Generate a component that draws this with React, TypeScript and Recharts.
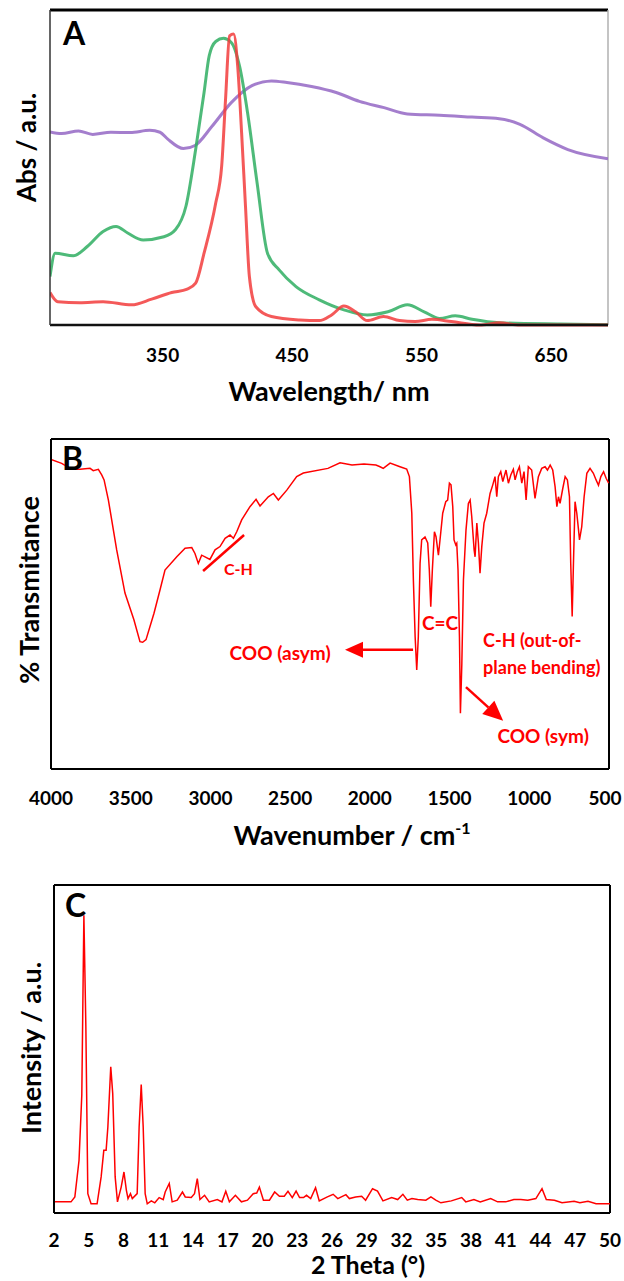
import type { ReactNode } from "react";
import { LineChart, Line, XAxis, YAxis, ReferenceLine, ReferenceDot, Label } from "recharts";

const FONT = "Lato, 'Open Sans', sans-serif";
const RED = "#ff0000";

// A - UV-Vis absorbance
const uvTicks = [350, 450, 550, 650];
const purpleNm = [263, 272, 285, 296, 310, 325, 340, 348, 354, 366, 375, 388, 403, 419, 434, 446, 465, 484, 502, 521, 539, 564, 589, 610, 626, 644, 663, 694];
const purpleAbs = [61.3, 60.8, 61.6, 60.5, 61.2, 61.1, 61.8, 61.2, 59, 56, 57, 63, 70.6, 76, 77.5, 77, 75.7, 73.8, 71, 69, 67, 66.6, 66, 65.5, 63.7, 59.4, 55.7, 52.8];
const greenNm = [263, 267, 281, 292, 304, 314, 323, 335, 351, 360, 368, 375.5, 382, 386, 391, 397, 403, 409.5, 415.6, 423, 431, 440, 453, 471, 490, 508, 524, 539, 552, 564, 576, 589, 610, 657, 694];
const greenAbs = [15.4, 22.8, 22, 25, 29.7, 31.3, 29.2, 27, 28, 30.3, 37.7, 55.7, 73.8, 85.5, 90, 91, 89.7, 82, 67.4, 45, 22.8, 17.5, 12.2, 8, 4.8, 3.2, 4.2, 6.4, 4.2, 2.1, 2.9, 1.8, 0.7, 0.3, 0.1];
const redNm = [263, 269, 286, 304, 326, 341.5, 357, 369, 375.5, 382, 391, 395.6, 398.6, 401.7, 404.8, 408, 411, 414, 417, 422, 434, 456, 471, 480.5, 490, 499, 508, 520.6, 533, 545, 558, 573, 595, 610, 626, 694];
const redAbs = [10.3, 7.4, 7.1, 7.4, 6.4, 8.2, 10.3, 11.4, 13.3, 22.8, 38.7, 50.4, 71.7, 91.8, 92.4, 82, 61, 37.7, 15.4, 5.8, 2.7, 1.6, 1.4, 3.2, 6, 4.2, 1.4, 2.7, 1.4, 1.1, 1.8, 1.1, 0, 0.7, 0, 0];

// B - FTIR
const irTicks = [4000, 3500, 3000, 2500, 2000, 1500, 1000, 500];
const irWave = [4000, 3933, 3870, 3818, 3755, 3735, 3703, 3682, 3667, 3640, 3588, 3536, 3480, 3442, 3425, 3404, 3354, 3316, 3285, 3211, 3159, 3117, 3097, 3076, 3055, 3034, 3003, 2971, 2940, 2908, 2877, 2856, 2835, 2804, 2752, 2714, 2689, 2637, 2605, 2574, 2521, 2459, 2417, 2263, 2187, 2112, 2037, 1962, 1936, 1916, 1873, 1811, 1769, 1752, 1737, 1727, 1716, 1706, 1696, 1685, 1675, 1654, 1637, 1627, 1618, 1608, 1595, 1585, 1570, 1560, 1543, 1524, 1512, 1501, 1491, 1480, 1472, 1461, 1455, 1447, 1438, 1432, 1423, 1413, 1397, 1382, 1371, 1361, 1346, 1340, 1329, 1319, 1309, 1298, 1284, 1267, 1246, 1229, 1215, 1204, 1194, 1179, 1166, 1146, 1131, 1116, 1100, 1089, 1075, 1062, 1047, 1033, 1020, 1006, 985, 964, 943, 922, 901, 886, 869, 853, 838, 827, 817, 807, 790, 775, 761, 748, 740, 731, 723, 713, 702, 691, 685, 671, 656, 639, 619, 598, 581, 566, 551, 534, 518, 502];
const irTrans = [93.8, 92.6, 90.8, 90.8, 91.1, 90.4, 90.8, 89.1, 87.6, 81.5, 66.4, 53.3, 45.2, 38.6, 38.4, 39.2, 47.2, 54.3, 60.3, 64.3, 66.9, 67.1, 65.3, 62.3, 64.8, 64.3, 63.5, 66.4, 67.4, 69.9, 70.9, 69.9, 71.9, 75.5, 79.5, 81.7, 79.7, 82.5, 83.5, 81.5, 84.5, 88.6, 89.7, 91.1, 92.8, 92.1, 92.4, 92.1, 91.6, 91.1, 92.7, 91.6, 90.9, 88.6, 77.6, 57.3, 40.1, 30, 40.1, 62.4, 69.4, 70.3, 68.5, 60.3, 49.2, 60.3, 71.9, 70.4, 64.8, 69.4, 77.5, 81, 81.5, 86.6, 86.1, 79.5, 69.4, 67.9, 68.4, 60.3, 40.1, 16.9, 32, 57.3, 72.4, 80.5, 81.5, 76.5, 66.4, 64.3, 74.5, 68.4, 59.3, 67.4, 74.5, 77.5, 83.5, 86.1, 88.6, 82.5, 88.6, 90.1, 87.1, 90.6, 86.6, 89.1, 90.8, 87.6, 90.1, 91.6, 86.6, 90.1, 81.5, 91.6, 90.6, 82, 88.6, 91.1, 91.6, 90.6, 92.1, 90.6, 85.5, 79.5, 82.5, 80.5, 85, 88.6, 87.6, 82.5, 62.3, 46.2, 62.3, 81, 77.5, 72.4, 69.4, 73.4, 82.5, 89.6, 91.1, 89.6, 87.6, 86, 88.6, 90.1, 88.1, 86.6];

// C - XRD
const xrdTicks = [2, 5, 8, 11, 14, 17, 20, 23, 26, 29, 32, 35, 38, 41, 44, 47, 50];
const xrdTheta = [2, 3.47, 3.8, 4.16, 4.4, 4.58, 4.75, 4.92, 5.2, 5.72, 6.07, 6.3, 6.5, 6.65, 6.9, 7.07, 7.28, 7.48, 7.8, 8.04, 8.25, 8.39, 8.6, 8.76, 9.18, 9.35, 9.53, 9.7, 9.87, 10.05, 10.4, 10.7, 11.08, 11.43, 11.6, 11.95, 12.2, 12.64, 13.09, 13.33, 13.85, 14.13, 14.37, 14.6, 15, 15.4, 16.1, 16.5, 16.83, 17.14, 17.66, 18.18, 18.7, 19.2, 19.5, 19.73, 20.08, 20.6, 21.05, 21.46, 21.88, 22.2, 22.57, 22.9, 23.2, 23.54, 23.8, 24.16, 24.58, 24.9, 25.6, 26.1, 26.5, 27.2, 27.5, 28.04, 28.56, 28.9, 29.5, 29.93, 30.4, 31.15, 31.67, 32.12, 32.5, 32.9, 33.4, 34.1, 34.54, 34.96, 35.4, 36.3, 37.2, 37.55, 38.25, 38.8, 39.7, 40.3, 41, 41.7, 42.3, 42.9, 43.6, 44.13, 44.5, 45.2, 45.86, 46.9, 47.4, 48.1, 48.8, 50];
const xrdCounts = [3.4, 3.4, 4.9, 16, 36, 90.8, 56.8, 5.9, 2.8, 2.8, 11, 19.1, 19.1, 26.2, 44.6, 36.4, 11, 3.4, 7.9, 12.5, 6.9, 4.4, 5.9, 4.4, 5.9, 26.2, 39.2, 26.2, 5.9, 2.8, 3.7, 3.1, 4.7, 4.1, 6.4, 9, 3.4, 3.9, 6.4, 4.9, 4.7, 5.9, 10.5, 4.1, 5.4, 3.4, 4.1, 3.4, 6.6, 3.4, 5.4, 3.4, 3.9, 5.9, 6.1, 7.9, 3.9, 3.9, 6.4, 5.1, 5.1, 6.6, 4.7, 6.7, 4.7, 4.7, 5.4, 4.4, 7.7, 3.7, 4.9, 5.7, 4.4, 5.6, 4.4, 4.9, 5.1, 3.9, 7.4, 6.7, 3.7, 4.7, 4.1, 5.7, 3.9, 4.4, 4.1, 3.9, 4.9, 3.9, 3.1, 3.7, 4.7, 3.4, 4.1, 3.4, 4.4, 3.4, 3.4, 4.1, 4.1, 3.9, 4.4, 7.4, 4.1, 3.9, 3.1, 3.6, 3.1, 3.6, 2.8, 2.8];

const zip = (xs: number[], ys: number[]) => xs.map((x, i) => ({ x, y: ys[i] }));

const tickStyle = { fill: "#000", fontSize: 19, fontWeight: 700, fontFamily: FONT };

// IR ticks: the last label sits on the page edge, nudge it inwards
const irTick = (p: any) => {
  const shift = p.payload.value === 500 ? -4 : 0;
  return (
    <text x={p.x + shift} y={p.y} dy="0.71em" textAnchor="middle" {...tickStyle}>{p.payload.value}</text>
  );
};

const xTitle = (body: ReactNode, lift: number, dx = 0, size = 27) => (p: any) => {
  const vb = p.viewBox;
  return (
    <text x={vb.x + vb.width / 2 + dx} y={vb.y + vb.height - lift} textAnchor="middle"
      fontSize={size} fontWeight={700} fontFamily={FONT} fill="#000">{body}</text>
  );
};

const yTitle = (text: string, dy: number, size = 27) => (p: any) => {
  const vb = p.viewBox;
  const cx = vb.x + vb.width / 2;
  const cy = vb.y + vb.height / 2 + dy;
  return (
    <text x={cx} y={cy} transform={`rotate(-90 ${cx} ${cy})`} textAnchor="middle" dominantBaseline="central"
      fontSize={size} fontWeight={700} fontFamily={FONT} fill="#000">{text}</text>
  );
};

const tag = (text: string, size: number, fill: string, anchor: "start" | "middle" = "middle") => (p: any) => (
  <text x={p.cx} y={p.cy} textAnchor={anchor} dominantBaseline="central"
    fontSize={size} fontWeight={700} fontFamily={FONT} fill={fill}>{text}</text>
);

// line with a filled triangle at the (x2, y2) end
const arrow = (head: number, half: number) => (p: any) => {
  const { x1, y1, x2, y2 } = p;
  const len = Math.hypot(x2 - x1, y2 - y1);
  const ux = (x2 - x1) / len;
  const uy = (y2 - y1) / len;
  const bx = x2 - ux * head;
  const by = y2 - uy * head;
  const pts = `${x2},${y2} ${bx - uy * half},${by + ux * half} ${bx + uy * half},${by - ux * half}`;
  return (
    <g>
      <line x1={x1} y1={y1} x2={bx} y2={by} stroke={RED} strokeWidth={2.5} />
      <polygon points={pts} fill={RED} />
    </g>
  );
};

const UvPanel = () => (
  <LineChart width={624} height={410} margin={{ top: 10, right: 16, bottom: 5, left: 2 }}>
    <XAxis dataKey="x" type="number" domain={[263, 694]} ticks={uvTicks} allowDataOverflow
      tickLine={false} tickSize={0} tickMargin={23.5} tick={tickStyle} height={80}
      axisLine={{ stroke: "#111", strokeWidth: 2.5 }}>
      <Label content={xTitle("Wavelength/ nm", 4)} />
    </XAxis>
    <YAxis type="number" domain={[0, 100]} tick={false} tickLine={false} width={48}
      axisLine={{ stroke: "#333", strokeWidth: 1.5 }}>
      <Label content={yTitle("Abs / a.u.", -20, 26)} />
    </YAxis>
    <ReferenceLine y={100} stroke="#000" strokeWidth={3} />
    <ReferenceLine x={694} stroke="#b0b0b0" strokeWidth={1.5} />
    <Line data={zip(purpleNm, purpleAbs)} dataKey="y" type="monotone" stroke="#9467c4" strokeOpacity={0.85}
      strokeWidth={3} dot={false} isAnimationActive={false} />
    <Line data={zip(greenNm, greenAbs)} dataKey="y" type="monotone" stroke="#2fae62" strokeOpacity={0.85}
      strokeWidth={3} dot={false} isAnimationActive={false} />
    <Line data={zip(redNm, redAbs)} dataKey="y" type="monotone" stroke="#f23c3c" strokeOpacity={0.85}
      strokeWidth={3} dot={false} isAnimationActive={false} />
    <ReferenceDot x={273} y={92.8} r={0} shape={tag("A", 32, "#000", "start")} />
  </LineChart>
);

const IrPanel = () => (
  <LineChart width={624} height={440} margin={{ top: 19, right: 15, bottom: 1, left: 5 }}>
    <XAxis dataKey="x" type="number" domain={[500, 4000]} reversed ticks={irTicks} interval={0} allowDataOverflow
      tickLine={false} tickSize={0} tickMargin={22.5} tick={irTick} height={90}
      axisLine={{ stroke: "#000", strokeWidth: 2 }}>
      <Label content={xTitle(<>Wavenumber / cm<tspan dy={-11} fontSize={16}>-1</tspan></>, 14, 22)} />
    </XAxis>
    <YAxis type="number" domain={[0, 100]} tick={false} tickLine={false} width={46}
      axisLine={{ stroke: "#000", strokeWidth: 2 }}>
      <Label content={yTitle("% Transmitance", -14)} />
    </YAxis>
    <ReferenceLine y={100} stroke="#000" strokeWidth={2} />
    <ReferenceLine x={500} stroke="#000" strokeWidth={2} />
    <Line data={zip(irWave, irTrans)} dataKey="y" type="linear" stroke={RED} strokeWidth={1.5}
      dot={false} isAnimationActive={false} />
    <ReferenceLine segment={[{ x: 3046, y: 60 }, { x: 2789, y: 70.9 }]} stroke={RED} strokeWidth={2.5} />
    <ReferenceLine segment={[{ x: 1729, y: 36.1 }, { x: 2156, y: 36.1 }]} shape={arrow(18, 8)} />
    <ReferenceLine segment={[{ x: 1397, y: 24.8 }, { x: 1164, y: 14.6 }]} shape={arrow(20, 9)} />
    <ReferenceDot x={3931} y={94.4} r={0} shape={tag("B", 32, "#000", "start")} />
    <ReferenceDot x={2824} y={60.8} r={0} shape={tag("C-H", 16, RED)} />
    <ReferenceDot x={1560} y={44.5} r={0} shape={tag("C=C", 19, RED)} />
    <ReferenceDot x={2563} y={35.2} r={0} shape={tag("COO (asym)", 19, RED)} />
    <ReferenceDot x={1290} y={39.1} r={0} shape={tag("C-H (out-of-", 18, RED, "start")} />
    <ReferenceDot x={1290} y={30.9} r={0} shape={tag("plane bending)", 18, RED, "start")} />
    <ReferenceDot x={913} y={10.3} r={0} shape={tag("COO (sym)", 19, RED)} />
  </LineChart>
);

const XrdPanel = () => (
  <LineChart width={624} height={421} margin={{ top: 25, right: 14, bottom: 2, left: 7 }}>
    <XAxis dataKey="x" type="number" domain={[2, 50]} ticks={xrdTicks} interval={0} allowDataOverflow
      tickLine={false} tickSize={0} tickMargin={21} tick={tickStyle} height={66}
      axisLine={{ stroke: "#000", strokeWidth: 2 }}>
      <Label content={xTitle("2 Theta (°)", 5, 36, 25)} />
    </XAxis>
    <YAxis type="number" domain={[0, 100]} tick={false} tickLine={false} width={47}
      axisLine={{ stroke: "#000", strokeWidth: 2 }}>
      <Label content={yTitle("Intensity / a.u.", -1)} />
    </YAxis>
    <ReferenceLine y={100} stroke="#000" strokeWidth={2} />
    <ReferenceLine x={50} stroke="#000" strokeWidth={2} />
    <Line data={zip(xrdTheta, xrdCounts)} dataKey="y" type="linear" stroke={RED} strokeWidth={1.5}
      dot={false} isAnimationActive={false} />
    <ReferenceDot x={2.95} y={94.2} r={0} shape={tag("C", 32, "#000", "start")} />
  </LineChart>
);

export default function App() {
  return (
    <div style={{ position: "absolute", left: 0, top: 0, width: 624, height: 1281, background: "#fff" }}>
      <div style={{ position: "absolute", left: 0, top: 0 }}><UvPanel /></div>
      <div style={{ position: "absolute", left: 0, top: 420 }}><IrPanel /></div>
      <div style={{ position: "absolute", left: 0, top: 860 }}><XrdPanel /></div>
    </div>
  );
}
